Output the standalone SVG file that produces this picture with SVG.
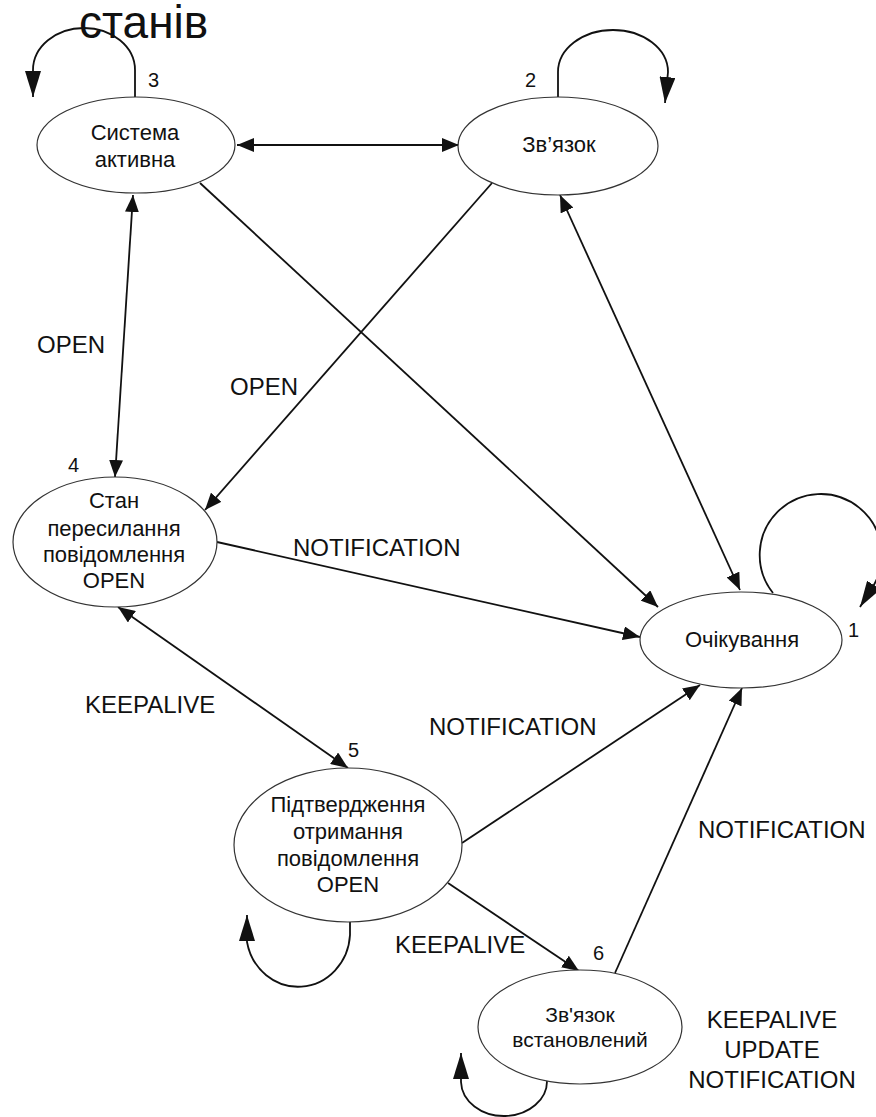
<svg xmlns="http://www.w3.org/2000/svg" width="876" height="1117" viewBox="0 0 876 1117">
  <style>
    .node ellipse { fill: #ffffff; stroke: #333333; stroke-width: 1.2; }
    .ntxt { font-family: "Liberation Sans", Arial, sans-serif; font-size: 22px; fill: #111111; text-anchor: middle; }
    .lbl { font-family: "Liberation Sans", Arial, sans-serif; font-size: 24px; fill: #111111; }
    .num { font-family: "Liberation Sans", Arial, sans-serif; font-size: 20px; fill: #111111; }
    .title { font-family: "Liberation Sans", Arial, sans-serif; font-size: 46px; fill: #111111; }
    .edge { fill: none; stroke: #111111; stroke-width: 1.8; }
    .loop { fill: none; stroke: #111111; stroke-width: 1.8; }
  </style>
  <defs>
    <marker id="arr" markerUnits="userSpaceOnUse" markerWidth="17" markerHeight="14" refX="17" refY="7" orient="auto-start-reverse">
      <path d="M0,0 L17,7 L0,14 z" fill="#111111"/>
    </marker>
    <marker id="loopArr" markerUnits="userSpaceOnUse" markerWidth="26" markerHeight="16" refX="26" refY="8" orient="auto">
      <path d="M0,0 L26,8 L0,16 z" fill="#111111"/>
    </marker>
  </defs>

  <rect x="0" y="0" width="876" height="1117" fill="#ffffff"/>

  <text class="title" x="79" y="38">станів</text>

  <!-- transitions -->
  <g id="connectors">
    <!-- 3 <-> 2 -->
    <line class="edge" x1="237" y1="145" x2="459" y2="145" stroke-width="2.4" marker-start="url(#arr)" marker-end="url(#arr)"/>
    <!-- 3 <-> 4 -->
    <line class="edge" x1="133" y1="195" x2="115" y2="477" marker-start="url(#arr)" marker-end="url(#arr)"/>
    <!-- 2 -> 4 -->
    <line class="edge" x1="492" y1="183" x2="205" y2="510" marker-end="url(#arr)"/>
    <!-- 3 -> 1 -->
    <line class="edge" x1="200" y1="183" x2="658" y2="607" marker-end="url(#arr)"/>
    <!-- 2 <-> 1 -->
    <line class="edge" x1="560" y1="195" x2="740" y2="590" marker-start="url(#arr)" marker-end="url(#arr)"/>
    <!-- 4 -> 1 -->
    <line class="edge" x1="217" y1="542" x2="640" y2="637" marker-end="url(#arr)"/>
    <!-- 4 <-> 5 -->
    <line class="edge" x1="118" y1="607" x2="348" y2="768" marker-start="url(#arr)" marker-end="url(#arr)"/>
    <!-- 5 -> 1 -->
    <line class="edge" x1="462" y1="843" x2="700" y2="685" marker-end="url(#arr)"/>
    <!-- 6 -> 1 -->
    <line class="edge" x1="615" y1="973" x2="742" y2="688" marker-end="url(#arr)"/>
    <!-- 5 -> 6 -->
    <line class="edge" x1="448" y1="883" x2="579" y2="971" marker-end="url(#arr)"/>

    <!-- self loops -->
    <path class="loop" d="M135,97 L135,70 A51,42 0 0 0 33,70 L33,97" marker-end="url(#loopArr)"/>
    <path class="loop" d="M558,97 L558,72 A55,42 0 0 1 668,72 L665,103" marker-end="url(#loopArr)"/>
    <path class="loop" d="M773,593 A61,61 0 1 1 872,588 L860,607" marker-end="url(#loopArr)"/>
    <path class="loop" d="M350,922 L350,935 A52,55 0 0 1 247,942 L247,915" marker-end="url(#loopArr)"/>
    <path class="loop" d="M547,1080 A43,35 0 0 1 461,1082 L461,1053" marker-end="url(#loopArr)"/>
  </g>

  <!-- transition labels -->
  <g id="edge-labels">
    <text class="lbl" x="37" y="353">OPEN</text>
    <text class="lbl" x="230" y="395">OPEN</text>
    <text class="lbl" x="293" y="556">NOTIFICATION</text>
    <text class="lbl" x="85" y="713">KEEPALIVE</text>
    <text class="lbl" x="429" y="735">NOTIFICATION</text>
    <text class="lbl" x="698" y="838">NOTIFICATION</text>
    <text class="lbl" x="395" y="953">KEEPALIVE</text>
    <text class="lbl" text-anchor="middle" x="772" y="1028">KEEPALIVE</text>
    <text class="lbl" text-anchor="middle" x="772" y="1058">UPDATE</text>
    <text class="lbl" text-anchor="middle" x="772" y="1088">NOTIFICATION</text>
  </g>

  <!-- states -->
  <g id="state-3" class="node">
    <ellipse cx="136" cy="145" rx="99" ry="48"/>
    <text class="ntxt" x="135" y="140">Система</text>
    <text class="ntxt" x="135" y="167">активна</text>
    <text class="num" x="148" y="87">3</text>
  </g>

  <g id="state-2" class="node">
    <ellipse cx="558" cy="146" rx="100" ry="49"/>
    <text class="ntxt" x="559" y="152">Зв’язок</text>
    <text class="num" x="525" y="87">2</text>
  </g>

  <g id="state-4" class="node">
    <ellipse cx="115" cy="542" rx="102" ry="65"/>
    <text class="ntxt" x="114" y="508">Стан</text>
    <text class="ntxt" x="114" y="536">пересилання</text>
    <text class="ntxt" x="114" y="562">повідомлення</text>
    <text class="ntxt" x="114" y="588">OPEN</text>
    <text class="num" x="68" y="472">4</text>
  </g>

  <g id="state-1" class="node">
    <ellipse cx="741" cy="640" rx="101" ry="48"/>
    <text class="ntxt" x="742" y="647">Очікування</text>
    <text class="num" x="848" y="637">1</text>
  </g>

  <g id="state-5" class="node">
    <ellipse cx="348" cy="845" rx="114" ry="77"/>
    <text class="ntxt" x="348" y="812">Підтвердження</text>
    <text class="ntxt" x="348" y="839">отримання</text>
    <text class="ntxt" x="348" y="866">повідомлення</text>
    <text class="ntxt" x="348" y="892">OPEN</text>
    <text class="num" x="348" y="757">5</text>
  </g>

  <g id="state-6" class="node">
    <ellipse cx="580" cy="1027" rx="102" ry="57"/>
    <text class="ntxt" x="580" y="1022" style="font-size:21px">Зв'язок</text>
    <text class="ntxt" x="580" y="1047" style="font-size:21px">встановлений</text>
    <text class="num" x="593" y="960">6</text>
  </g>
</svg>
